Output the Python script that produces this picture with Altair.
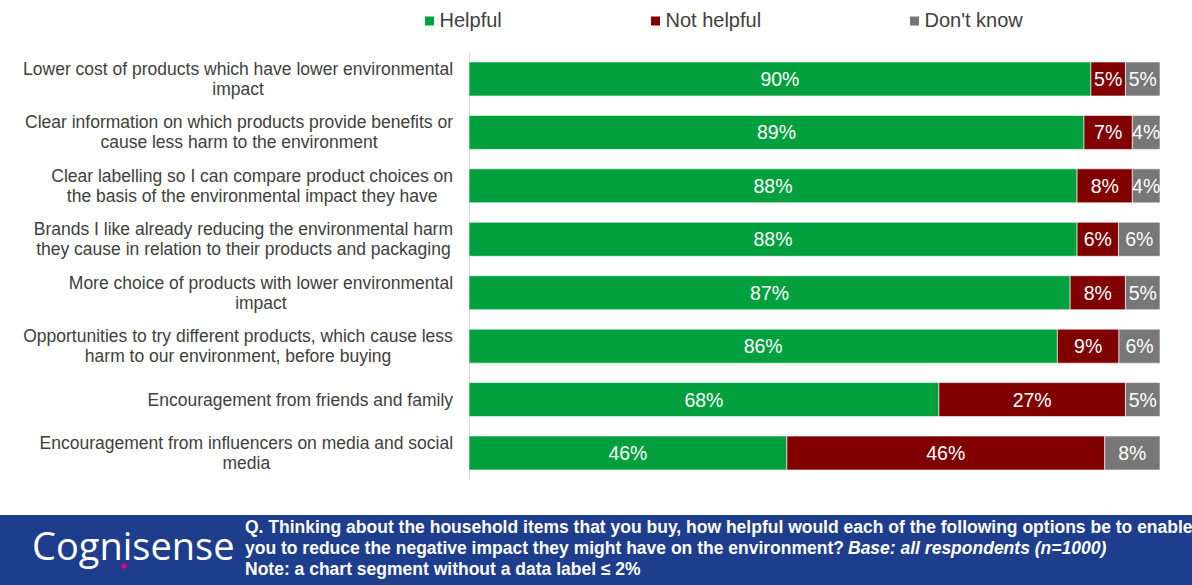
import altair as alt
import pandas as pd

# ---------------- data ----------------
items = [
    ["Lower cost of products which have lower environmental", "impact"],
    ["Clear information on which products provide benefits or", "cause less harm to the environment"],
    ["Clear labelling so I can compare product choices on", "the basis of the environmental impact they have"],
    ["Brands I like already reducing the environmental harm", "they cause in relation to their products and packaging"],
    ["More choice of products with lower environmental", "impact"],
    ["Opportunities to try different products, which cause less", "harm to our environment, before buying"],
    ["Encouragement from friends and family"],
    ["Encouragement from influencers on media and social", "media"],
]
helpful = [90, 89, 88, 88, 87, 86, 68, 46]
not_helpful = [5, 7, 8, 6, 8, 9, 27, 46]
dont_know = [5, 4, 4, 6, 5, 6, 5, 8]
categories = ["Helpful", "Not helpful", "Don't know"]
colors = ["#00a03e", "#800000", "#777777"]

footer_line1 = "Q. Thinking about the household items that you buy, how helpful would each of the following options be to enable"
footer_line2a = "you to reduce the negative impact they might have on the environment?"
footer_line2b = "Base: all respondents (n=1000)"
footer_line3 = "Note: a chart segment without a data label \u2264 2%"

PLOT_W, PLOT_H = 691, 428
LABEL_SIZE = 17.5
LABEL_PAD = 16

# ------------- label layout helper (Arial metrics) -------------
AW = {' ': 278, ',': 278, 'a': 556, 'b': 556, 'c': 500, 'd': 556, 'e': 556, 'f': 278, 'g': 556,
      'h': 556, 'i': 222, 'j': 222, 'k': 500, 'l': 222, 'm': 833, 'n': 556, 'o': 556, 'p': 556,
      'q': 556, 'r': 333, 's': 500, 't': 278, 'u': 556, 'v': 500, 'w': 722, 'x': 500, 'y': 500,
      'z': 500, 'B': 667, 'C': 722, 'E': 667, 'I': 278, 'L': 556, 'M': 833, 'O': 778}


def tw(s):
    return sum(AW.get(c, 556) for c in s) * LABEL_SIZE / 1000.0


labels = ["|".join(l) for l in items]
lab_df = pd.DataFrame({
    "item": labels,
    "lx": [-LABEL_PAD - max(tw(s) for s in l) / 2 for l in items],
    "nl": [len(l) for l in items],
})

rows = []
for i, lab in enumerate(labels):
    for j, (cat, vals) in enumerate(zip(categories, [helpful, not_helpful, dont_know])):
        rows.append({"item": lab, "category": cat, "value": vals[i], "order": j,
                     "txt": f"{vals[i]}%"})
df = pd.DataFrame(rows)

base = alt.Chart(df).transform_joinaggregate(
    total="sum(value)", groupby=["item"]
).transform_stack(
    stack="value", groupby=["item"], as_=["v0", "v1"], sort=[alt.SortField("order")]
).transform_calculate(
    n0="datum.v0 / datum.total",
    n1="datum.v1 / datum.total",
    mid="(datum.v0 + datum.v1) / 2 / datum.total",
)

yscale = alt.Scale(paddingInner=0.364, paddingOuter=0.187)
yenc = alt.Y(
    "item:N", sort=labels, title=None, scale=yscale,
    axis=alt.Axis(labels=False, ticks=False, domainColor="#d9d9d9"),
)
xscale = alt.Scale(domain=[0, 1], nice=False)

bars = base.mark_bar(stroke="white", strokeWidth=0.6).encode(
    y=yenc,
    x=alt.X("n0:Q", scale=xscale, axis=None),
    x2="n1:Q",
    color=alt.Color("category:N", scale=alt.Scale(domain=categories, range=colors),
                    sort=categories, title=None,
                    legend=alt.Legend(orient="none", legendX=-49.5, legendY=-41,
                                      direction="horizontal", symbolType="square",
                                      symbolSize=81, symbolStrokeWidth=0,
                                      labelFontSize=20, labelColor="#404040",
                                      labelOffset=0, columnPadding=143, padding=0)),
    order=alt.Order("order:Q"),
)

texts = base.mark_text(color="white", fontSize=19.5, align="center", baseline="middle", dy=1).encode(
    y=alt.Y("item:N", sort=labels),
    x=alt.X("mid:Q", scale=xscale, axis=None),
    text="txt:N",
)

lab_x = alt.X("lx:Q", scale=alt.Scale(domain=[0, PLOT_W], nice=False, zero=False), axis=None)
lab_style = dict(fontSize=LABEL_SIZE, color="#404040", align="center", baseline="middle",
                 lineBreak="|", lineHeight=20)
ylabels2 = alt.Chart(lab_df).transform_filter("datum.nl == 2").mark_text(dy=-9, **lab_style).encode(
    y=alt.Y("item:N", sort=labels), x=lab_x, text="item:N")
ylabels1 = alt.Chart(lab_df).transform_filter("datum.nl == 1").mark_text(dy=1, **lab_style).encode(
    y=alt.Y("item:N", sort=labels), x=lab_x, text="item:N")

one = pd.DataFrame({"a": [0]})
footer_bg = alt.Chart(one).mark_rect(color="#1e3d8d").encode(
    x=alt.value(-469), x2=alt.value(723), y=alt.value(463), y2=alt.value(533)
)
logo = alt.Chart(one).mark_text(text="Cognisense", font="Open Sans", fontSize=38, color="white",
                                align="left", baseline="alphabetic").encode(
    x=alt.value(-437), y=alt.value(508)
)
dot = alt.Chart(one).mark_circle(color="#e6007e", size=30, opacity=1).encode(
    x=alt.value(-345), y=alt.value(514)
)
fstyle = dict(fontSize=17.5, fontWeight="bold", color="white", align="left", baseline="middle")
f1 = alt.Chart(one).mark_text(text=footer_line1, **fstyle).encode(x=alt.value(-224), y=alt.value(476))
f2a = alt.Chart(one).mark_text(text=footer_line2a, **fstyle).encode(x=alt.value(-224), y=alt.value(497))
f2b = alt.Chart(one).mark_text(text=footer_line2b, fontStyle="italic", **fstyle).encode(
    x=alt.value(379), y=alt.value(497))
f3 = alt.Chart(one).mark_text(text=footer_line3, **fstyle).encode(x=alt.value(-224), y=alt.value(518))

chart = alt.layer(bars, texts, ylabels2, ylabels1, footer_bg, logo, dot, f1, f2a, f2b, f3).resolve_scale(
    x="independent"
).properties(
    width=PLOT_W, height=PLOT_H,
    padding={"left": 469, "top": 52, "right": 32, "bottom": 105},
    autosize=alt.AutoSizeParams(type="none"),
).configure(font="Liberation Sans").configure_view(strokeWidth=0)

chart.save("out.html", embed_options={"renderer": "svg", "actions": False})
